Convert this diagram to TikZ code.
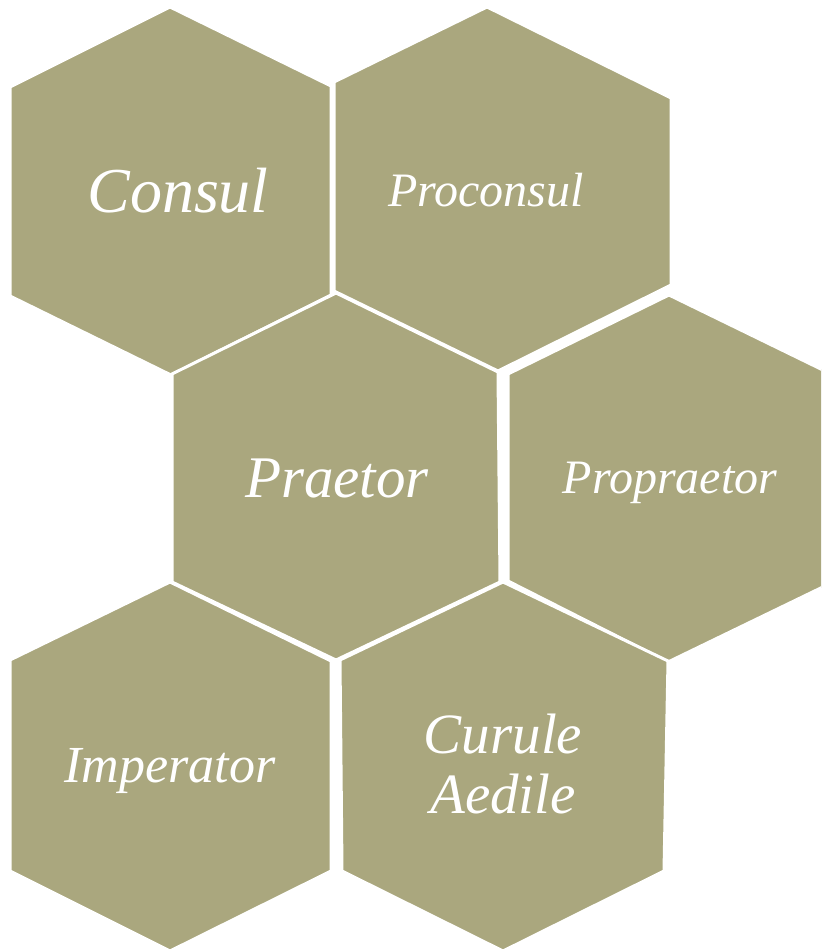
\documentclass[tikz,border=0pt]{standalone}
\usepackage{fontspec}
\setmainfont{Liberation Serif}
\usetikzlibrary{positioning}
\definecolor{hexOlive}{RGB}{170,167,126}

\begin{document}
\begin{tikzpicture}[x=1pt, y=-1pt,
    hexa/.style={fill=hexOlive, draw=white, line width=3pt, line join=miter},
    hexlabel/.style={text=white, anchor=base, inner sep=0pt}]
        \clip (0,0) rectangle (821,949);

        % Consul
        \draw[hexa] (170,7) -- (331,86) -- (331,295) -- (171,375) -- (10,296) -- (10,87) -- cycle;
        \node[hexlabel, font=\fontsize{64}{64}\selectfont\itshape] (consul) at (178,213) {Consul};

        % Proconsul
        \draw[hexa] (487,7) -- (671,98) -- (671,285) -- (498,371) -- (334,291) -- (334,82) -- cycle;
        \node[hexlabel, font=\fontsize{48}{48}\selectfont\itshape] (proconsul) at (486,207) {Proconsul};

        % Praetor
        \draw[hexa] (336,293) -- (498,372) -- (500,582) -- (336,660) -- (172,582) -- (172,374) -- cycle;
        \node[hexlabel, font=\fontsize{59}{59}\selectfont\itshape] (praetor) at (337,497) {Praetor};

        % Propraetor
        \draw[hexa] (669,295) -- (829,373) -- (829,584) -- (668,662) -- (508,581) -- (508,374) -- cycle;
        \node[hexlabel, font=\fontsize{48}{48}\selectfont\itshape] (propraetor) at (670,493) {Propraetor};

        % Imperator
        \draw[hexa] (170,582) -- (331,661) -- (331,871) -- (170,951) -- (10,871) -- (10,660) -- cycle;
        \node[hexlabel, font=\fontsize{52}{52}\selectfont\itshape] (imperator) at (170,782) {Imperator};

        % Curule Aedile
        \draw[hexa] (503,582) -- (668,661) -- (664,871) -- (503,951) -- (342,871) -- (340,660) -- cycle;
        \node[hexlabel, anchor=center, align=center, font=\fontsize{57}{60}\selectfont\itshape] (aedile) at (503,764) {Curule\\Aedile};
    \end{tikzpicture}
\end{document}
